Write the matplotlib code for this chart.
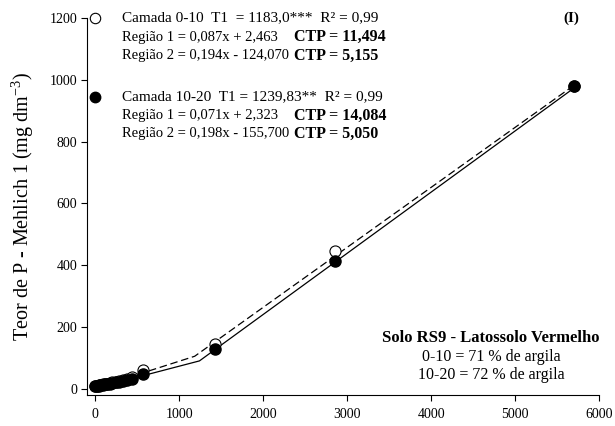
import numpy as np
import matplotlib.pyplot as plt

plt.rcParams['font.family'] = ['Liberation Serif', 'DejaVu Serif']
plt.rcParams['mathtext.fontset'] = 'custom'
plt.rcParams['mathtext.rm'] = 'Liberation Serif'

# dados
x_obs = [0, 20, 40, 60, 85, 110, 140, 170, 200, 240, 280, 330, 380, 440, 570, 1425, 2850, 5700]
y_0_10 = [9, 10, 11, 12, 14, 15, 17, 19, 21, 23, 26, 29, 32, 38, 62, 145, 447, 980]
y_10_20 = [8, 9, 10, 11, 12, 14, 15, 17, 19, 21, 23, 26, 29, 33, 48, 128, 413, 980]

# modelos segmentados (coeficientes da figura)
t1_0_10, a1_0_10, b1_0_10, a2_0_10, b2_0_10 = 1183.0, 0.087, 2.463, 0.194, -124.070
t1_10_20, a1_10_20, b1_10_20, a2_10_20, b2_10_20 = 1239.83, 0.071, 2.323, 0.198, -155.700

fig = plt.figure(figsize=(6.15, 4.26), dpi=100)
ax = fig.add_axes([87 / 615, 1 - 395 / 426, 512 / 615, 377 / 426])

def px(x, y):
    return x / 615, 1 - y / 426

# linhas
xs1 = np.array([0, t1_0_10, 5700])
ys1 = np.where(xs1 <= t1_0_10, a1_0_10 * xs1 + b1_0_10, a2_0_10 * xs1 + b2_0_10)
ax.plot(xs1, ys1, color='black', lw=0.9, ls=(0, (6, 3)))
xs2 = np.array([0, t1_10_20, 5700])
ys2 = np.where(xs2 <= t1_10_20, a1_10_20 * xs2 + b1_10_20, a2_10_20 * xs2 + b2_10_20)
ax.plot(xs2, ys2, color='black', lw=0.9)

# pontos
ax.plot(x_obs, y_0_10, 'o', ms=8, mfc='white', mec='black', mew=0.8, clip_on=False, zorder=3)
ax.plot(x_obs, y_10_20, 'o', ms=8, mfc='black', mec='black', clip_on=False, zorder=4)

ax.set_xlim(-100, 6000)
ax.set_ylim(-20, 1200)
ax.set_xticks([0, 1000, 2000, 3000, 4000, 5000, 6000])
ax.set_yticks([0, 200, 400, 600, 800, 1000, 1200])
ax.spines['top'].set_visible(False)
ax.spines['right'].set_visible(False)
ax.tick_params(direction='out', length=4, width=0.8, labelsize=10)
ax.tick_params(axis='y', pad=3)
ax.tick_params(axis='x', pad=5)
ax.set_ylabel('Teor de P - Mehlich 1 (mg dm$^{-3}$)', fontsize=14.5, labelpad=10)

# legenda manual
fig.lines.append(plt.Line2D([95 / 615], [1 - 18 / 426], marker='o', ms=7.5, mfc='white', mec='black', mew=0.8, transform=fig.transFigure))
fig.lines.append(plt.Line2D([95 / 615], [1 - 97 / 426], marker='o', ms=7.5, mfc='black', mec='black', transform=fig.transFigure))

fs = 11
fr = 10.5
fb = 11.5
xb = 294
fig.text(*px(122, 18), 'Camada 0-10  T1  = 1183,0***  R² = 0,99', fontsize=fs, va='center')
fig.text(*px(122, 37), 'Região 1 = 0,087x + 2,463', fontsize=fr, va='center')
fig.text(*px(xb, 37), 'CTP = 11,494', fontsize=fb, va='center', fontweight='bold')
fig.text(*px(122, 56), 'Região 2 = 0,194x - 124,070', fontsize=fr, va='center')
fig.text(*px(xb, 56), 'CTP = 5,155', fontsize=fb, va='center', fontweight='bold')

fig.text(*px(122, 97), 'Camada 10-20  T1 = 1239,83**  R² = 0,99', fontsize=fs, va='center')
fig.text(*px(122, 116), 'Região 1 = 0,071x + 2,323', fontsize=fr, va='center')
fig.text(*px(xb, 116), 'CTP = 14,084', fontsize=fb, va='center', fontweight='bold')
fig.text(*px(122, 134), 'Região 2 = 0,198x - 155,700', fontsize=fr, va='center')
fig.text(*px(xb, 134), 'CTP = 5,050', fontsize=fb, va='center', fontweight='bold')

fig.text(*px(571, 18), '(I)', fontsize=fs, va='center', ha='center', fontweight='bold')

fig.text(*px(491, 338), 'Solo RS9 - Latossolo Vermelho', fontsize=12, va='center', ha='center', fontweight='bold')
fig.text(*px(491, 357), '0-10 = 71 % de argila', fontsize=11.5, va='center', ha='center')
fig.text(*px(491, 375), '10-20 = 72 % de argila', fontsize=11.5, va='center', ha='center')

fig.savefig('out.png', dpi=100)
